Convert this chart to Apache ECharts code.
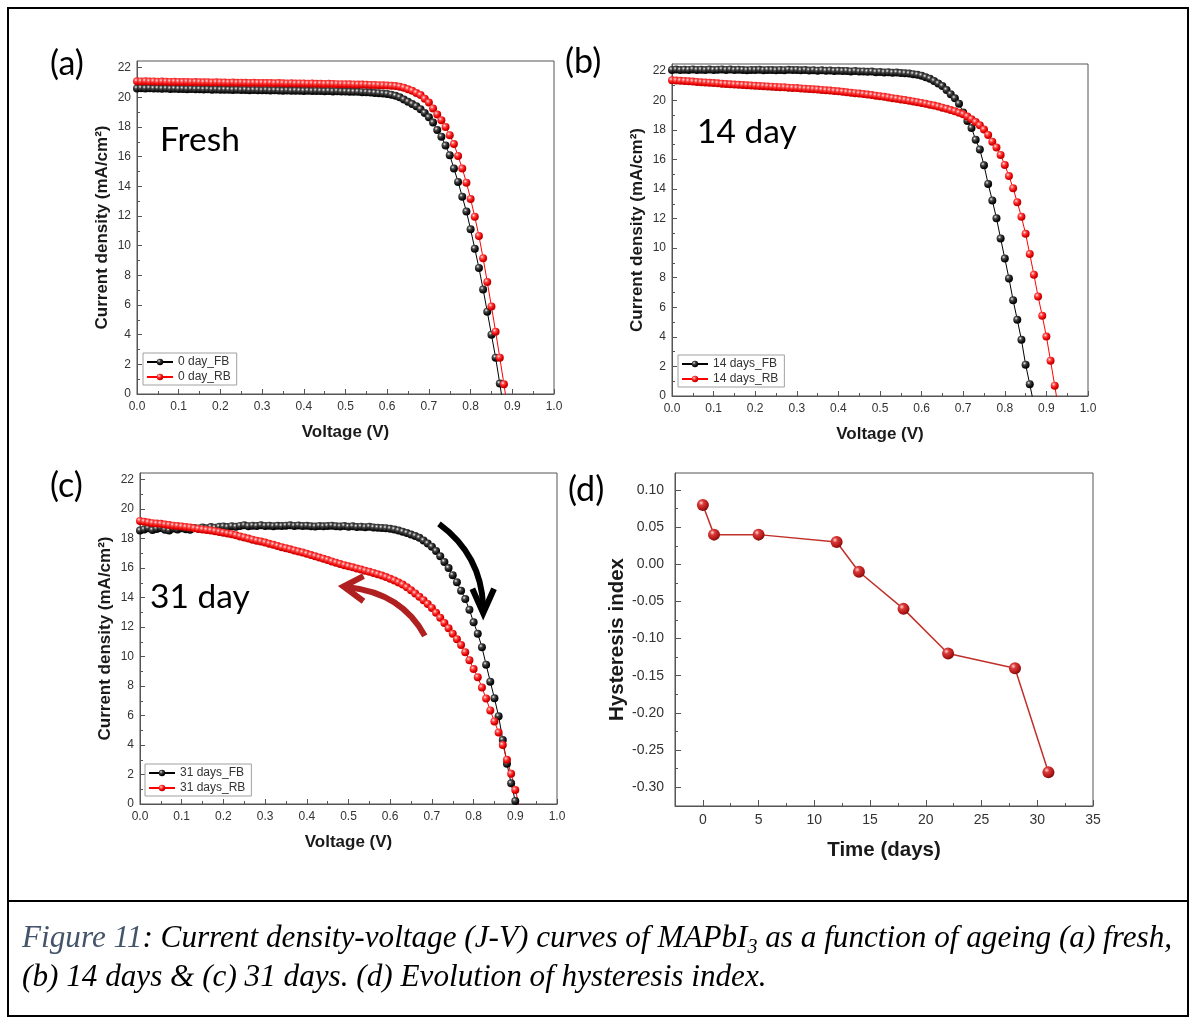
<!DOCTYPE html>
<html><head><meta charset="utf-8">
<script src="https://cdn.jsdelivr.net/npm/echarts@6/dist/echarts.min.js"></script>
<style>html,body{margin:0;padding:0;background:#fff}#c{width:1194px;height:1019px}</style>
</head><body><div id="c"></div>
<script>
// ---------- DATA ----------
const V = [
0.00,0.01,0.02,0.03,0.04,0.05,0.06,0.07,0.08,0.09,
0.10,0.11,0.12,0.13,0.14,0.15,0.16,0.17,0.18,0.19,
0.20,0.21,0.22,0.23,0.24,0.25,0.26,0.27,0.28,0.29,
0.30,0.31,0.32,0.33,0.34,0.35,0.36,0.37,0.38,0.39,
0.40,0.41,0.42,0.43,0.44,0.45,0.46,0.47,0.48,0.49,
0.50,0.51,0.52,0.53,0.54,0.55,0.56,0.57,0.58,0.59,
0.60,0.61,0.62,0.63,0.64,0.65,0.66,0.67,0.68,0.69,
0.70,0.71,0.72,0.73,0.74,0.75,0.76,0.77,0.78,0.79,
0.80,0.81,0.82,0.83,0.84,0.85,0.86,0.87,0.88,0.89,
0.90,0.91,0.92,0.93];

const jA_FB = [
20.6,20.62,20.6,20.61,20.59,20.6,20.58,20.59,20.57,20.58,
20.56,20.57,20.55,20.56,20.54,20.55,20.53,20.54,20.52,20.53,
20.51,20.52,20.51,20.5,20.51,20.49,20.5,20.48,20.49,20.48,
20.47,20.48,20.46,20.47,20.46,20.45,20.46,20.44,20.45,20.44,
20.43,20.44,20.42,20.43,20.42,20.41,20.42,20.4,20.41,20.39,
20.39,20.38,20.37,20.37,20.35,20.34,20.32,20.3,20.28,20.26,
20.23,20.18,20.1,20.0,19.85,19.7,19.55,19.4,19.2,18.95,
18.65,18.3,17.8,17.35,16.75,16.1,15.2,14.3,13.3,12.3,
11.1,9.8,8.5,7.05,5.55,4.0,2.45,0.7,-1.1];

const jA_RB = [
21.08,21.07,21.08,21.06,21.07,21.05,21.06,21.05,21.04,21.05,
21.04,21.03,21.04,21.02,21.03,21.02,21.01,21.02,21.0,21.01,
21.0,21.0,20.99,21.0,20.98,20.99,20.98,20.97,20.98,20.97,
20.97,20.96,20.97,20.95,20.96,20.95,20.94,20.95,20.93,20.94,
20.93,20.92,20.93,20.91,20.92,20.9,20.91,20.9,20.89,20.89,
20.88,20.88,20.87,20.86,20.86,20.85,20.84,20.83,20.82,20.81,
20.8,20.78,20.76,20.72,20.65,20.55,20.45,20.3,20.15,19.9,
19.65,19.25,18.85,18.45,18.0,17.45,16.85,16.05,15.2,14.25,
13.15,11.95,10.65,9.15,7.55,5.9,4.2,2.45,0.65,-1.2];

const jB_FB = [
22.05,22.07,22.04,22.06,22.05,22.08,22.05,22.06,22.04,22.07,
22.05,22.06,22.08,22.05,22.07,22.04,22.06,22.05,22.03,22.05,
22.04,22.06,22.03,22.05,22.04,22.02,22.05,22.03,22.06,22.04,
22.05,22.02,22.04,22.01,22.03,22.0,22.02,21.99,22.01,21.98,
21.99,21.97,21.98,21.95,21.97,21.94,21.95,21.92,21.94,21.9,
21.91,21.88,21.89,21.86,21.87,21.84,21.82,21.8,21.76,21.72,
21.66,21.56,21.45,21.3,21.13,20.96,20.69,20.41,20.13,19.77,
19.17,18.6,18.12,17.32,16.66,15.6,14.34,13.22,12.02,10.65,
9.3,7.95,6.47,5.16,3.8,2.12,0.8,-0.6];

const jB_RB = [
21.35,21.33,21.31,21.3,21.28,21.26,21.24,21.22,21.2,21.18,
21.16,21.14,21.12,21.1,21.08,21.06,21.05,21.03,21.01,21.0,
20.98,20.96,20.95,20.93,20.92,20.9,20.88,20.87,20.85,20.83,
20.82,20.8,20.78,20.76,20.74,20.72,20.7,20.67,20.65,20.62,
20.6,20.57,20.54,20.51,20.48,20.45,20.42,20.38,20.35,20.31,
20.27,20.23,20.19,20.14,20.1,20.05,20.01,19.96,19.92,19.87,
19.82,19.76,19.7,19.64,19.57,19.5,19.42,19.34,19.25,19.15,
19.05,18.9,18.72,18.52,18.3,18.02,17.65,17.2,16.8,16.3,
15.62,14.87,14.05,13.1,12.12,10.97,9.6,8.2,6.73,5.42,
4.02,2.38,0.7,-1.0];

const jC_FB = [
18.55,18.62,18.7,18.58,18.66,18.72,18.6,18.55,18.68,18.62,
18.7,18.64,18.6,18.72,18.68,18.75,18.7,18.78,18.74,18.8,
18.82,18.78,18.84,18.8,18.86,18.9,18.84,18.88,18.85,18.9,
18.86,18.88,18.84,18.87,18.85,18.88,18.9,18.86,18.89,18.85,
18.87,18.84,18.82,18.86,18.83,18.85,18.88,18.84,18.82,18.85,
18.8,18.83,18.79,18.81,18.77,18.8,18.76,18.74,18.72,18.7,
18.67,18.62,18.55,18.47,18.38,18.28,18.18,18.05,17.87,17.67,
17.45,17.16,16.8,16.42,16.0,15.52,15.04,14.47,13.9,13.17,
12.32,11.55,10.63,9.45,8.3,7.17,5.95,4.34,2.73,1.4,
0.2,-1.0];

const jC_RB = [
19.2,19.15,19.1,19.05,19.02,19.0,18.95,18.92,18.88,18.85,
18.82,18.78,18.75,18.7,18.66,18.62,18.58,18.55,18.5,18.45,
18.4,18.35,18.3,18.22,18.15,18.08,18.0,17.93,17.86,17.8,
17.73,17.65,17.58,17.5,17.42,17.35,17.27,17.2,17.12,17.05,
16.97,16.88,16.8,16.72,16.63,16.55,16.45,16.37,16.28,16.2,
16.12,16.05,15.97,15.9,15.82,15.75,15.67,15.58,15.49,15.39,
15.28,15.16,15.03,14.88,14.7,14.5,14.28,14.05,13.82,13.57,
13.3,12.97,12.63,12.28,11.92,11.55,11.18,10.78,10.3,9.75,
9.15,8.6,7.9,7.15,6.35,5.6,4.85,4.0,3.0,2.05,
0.95,-0.2];

const days = [0, 1, 5, 12, 14, 18, 22, 28, 31];
const hIndex = [0.08, 0.04, 0.04, 0.03, -0.01, -0.06, -0.12, -0.14, -0.28];

const jTicks = [0,2,4,6,8,10,12,14,16,18,20,22];
const jMinor = [1,3,5,7,9,11,13,15,17,19,21];
const dayTicks = [0,5,10,15,20,25,30,35];
const dayMinor = [2.5,7.5,12.5,17.5,22.5,27.5,32.5];
const hiTicks = [-0.30,-0.25,-0.20,-0.15,-0.10,-0.05,0.00,0.05,0.10];
const hiMinor = [-0.275,-0.225,-0.175,-0.125,-0.075,-0.025,0.025,0.075];

const seriesNames = [['0 day_FB','0 day_RB'],['14 days_FB','14 days_RB'],['31 days_FB','31 days_RB']];
const jvData = [[jA_FB, jA_RB],[jB_FB, jB_RB],[jC_FB, jC_RB]];
const panelTags = ['(a)','(b)','(c)','(d)'];
const panelNotes = ['Fresh','14 day','31 day'];

// arrow annotation anchors in (c) data coordinates [V, J]
const arrowBlack = [[0.717,19.0],[0.818,16.9],[0.823,13.4]];
const arrowBlackHead = [[0.797,14.6],[0.823,12.95],[0.849,14.6]];
const arrowRed = [[0.683,11.4],[0.628,14.3],[0.50,14.7]];
const arrowRedHead = [[0.536,15.45],[0.488,14.75],[0.536,13.75]];

// ---------- CHART ----------
const chart = echarts.init(document.getElementById('c'), null, {renderer:'canvas'});
const FONT = 'Liberation Sans';
function ball(c0,c1,c2,c3){return {type:'radial',x:0.36,y:0.33,r:0.7,colorStops:[{offset:0,color:c0},{offset:0.3,color:c1},{offset:0.7,color:c2},{offset:1,color:c3}]};}
const blackBall = ball('#f4f4f4','#4a4a4a','#111','#000');
const redBall = ball('#ffe4e4','#ff4a4a','#e60000','#b00000');
const darkRedBall = ball('#ffd6d6','#d93a3a','#b81a1a','#7a0c0c');

const grids = [
  {left:137, top:61, width:417, height:333},
  {left:672, top:64, width:416, height:332},
  {left:140, top:473, width:417, height:331},
  {left:675, top:473, width:418, height:333}
].map(g => Object.assign({show:true, borderColor:'#555', borderWidth:1, backgroundColor:'transparent'}, g));

const axisCommon = {
  axisLine:{show:true, onZero:false, lineStyle:{color:'#555', width:1}},
  splitLine:{show:false},
};
const minorLine = {show:false, onZero:false};
const xAxes = [], yAxes = [], series = [], legends = [];
const legendPos = [{left:143, top:353},{left:678, top:355},{left:145, top:764}];

for (let k=0;k<3;k++){
  xAxes.push(Object.assign({}, axisCommon, {
    type:'value', gridIndex:k, min:0, max:1, interval:0.1,
    axisTick:{inside:true, length:5, lineStyle:{color:'#555'}},
    minorTick:{show:true, splitNumber:2, length:3, lineStyle:{color:'#555'}},
    axisLabel:{fontSize:12, color:'#333', margin:7, fontFamily:FONT, formatter:v=>v.toFixed(1)},
    name:'Voltage (V)', nameLocation:'middle', nameGap:30,
    nameTextStyle:{fontSize:17, fontWeight:'bold', color:'#1a1a1a', fontFamily:FONT}
  }));
  yAxes.push(Object.assign({}, axisCommon, {
    type:'value', gridIndex:k, min:0, max:22.45, interval:2, position:'left',
    axisTick:{inside:true, length:5, customValues:jTicks, lineStyle:{color:'#555'}},
    axisLabel:{fontSize:12, color:'#333', margin:6, fontFamily:FONT, customValues:jTicks},
    name:'Current density (mA/cm²)', nameLocation:'middle', nameGap:26,
    nameTextStyle:{fontSize:17, fontWeight:'bold', color:'#1a1a1a', fontFamily:FONT}
  }));
  yAxes.push({
    type:'value', gridIndex:k, min:0, max:22.45, position:'left',
    axisLine:minorLine, splitLine:{show:false}, axisLabel:{show:false},
    axisTick:{inside:true, length:3, customValues:jMinor, lineStyle:{color:'#555'}}
  });
  const names = seriesNames[k];
  const mk = (arr, name, lineColor, ballColor) => ({
    type:'line', name, xAxisIndex:k, yAxisIndex:2*k,
    data: arr.map((y,i)=>[V[i], y]),
    symbol:'circle', symbolSize:8, showSymbol:true, clip:true,
    lineStyle:{width:1, color:lineColor},
    itemStyle:{color:ballColor},
    animation:false, z:3
  });
  series.push(mk(jvData[k][0], names[0], '#000', blackBall));
  series.push(mk(jvData[k][1], names[1], '#ff0000', redBall));
  legends.push(Object.assign({
    data:names, orient:'vertical', itemGap:3, itemWidth:26, itemHeight:8,
    padding:[3,6,2,3], borderColor:'#a0a0a0', borderWidth:1, backgroundColor:'#fff',
    textStyle:{fontSize:12, color:'#333', fontFamily:FONT}, selectedMode:false
  }, legendPos[k]));
}
// panel d
xAxes.push(Object.assign({}, axisCommon, {
  type:'value', gridIndex:3, min:-2.5, max:35,
  axisTick:{inside:true, length:6, customValues:dayTicks, lineStyle:{color:'#555'}},
  axisLabel:{fontSize:14, color:'#333', margin:7, fontFamily:FONT, customValues:dayTicks},
  name:'Time (days)', nameLocation:'middle', nameGap:34,
  nameTextStyle:{fontSize:20.5, fontWeight:'bold', color:'#1a1a1a', fontFamily:FONT}
}));
xAxes.push({
  type:'value', gridIndex:3, min:-2.5, max:35, position:'bottom',
  axisLine:minorLine, splitLine:{show:false}, axisLabel:{show:false},
  axisTick:{inside:true, length:3, customValues:dayMinor, lineStyle:{color:'#555'}}
});
yAxes.push(Object.assign({}, axisCommon, {
  type:'value', gridIndex:3, min:-0.3255, max:0.123, position:'left',
  axisTick:{inside:true, length:6, customValues:hiTicks, lineStyle:{color:'#555'}},
  axisLabel:{fontSize:14, color:'#333', margin:11, fontFamily:FONT, customValues:hiTicks, formatter:v=>v.toFixed(2)},
  name:'Hysteresis index', nameLocation:'middle', nameGap:47,
  nameTextStyle:{fontSize:20.5, fontWeight:'bold', color:'#1a1a1a', fontFamily:FONT}
}));
yAxes.push({
  type:'value', gridIndex:3, min:-0.3255, max:0.123, position:'left',
  axisLine:minorLine, splitLine:{show:false}, axisLabel:{show:false},
  axisTick:{inside:true, length:3, customValues:hiMinor, lineStyle:{color:'#555'}}
});
series.push({
  type:'line', name:'HI', xAxisIndex:3, yAxisIndex:6,
  data: hIndex.map((y,i)=>[days[i], y]),
  symbol:'circle', symbolSize:12, lineStyle:{width:1.5, color:'#c0302a'},
  itemStyle:{color:darkRedBall}, animation:false, z:3
});

chart.setOption({
  animation:false,
  textStyle:{fontFamily:FONT},
  grid:grids, xAxis:xAxes, yAxis:yAxes, series, legend:legends
});

// ---------- ANNOTATIONS ----------
const px = p => chart.convertToPixel({gridIndex:2}, p);
const bA = arrowBlack.map(px), bH = arrowBlackHead.map(px);
const rA = arrowRed.map(px), rH = arrowRedHead.map(px);
const tagPos = [[50,64],[565,62],[50,486],[568,490]];
const notePos = [[160,140],[697,132],[150,597]];
const LABEL_FONT = 'Lato';
const graphics = [
  {type:'rect', shape:{x:8,y:8,width:1180,height:1008}, style:{fill:'none', stroke:'#000', lineWidth:2}, silent:true},
  {type:'line', shape:{x1:8,y1:901,x2:1188,y2:901}, style:{stroke:'#000', lineWidth:2}, silent:true},
];
panelTags.forEach((t,i)=>graphics.push({type:'text', x:tagPos[i][0], y:tagPos[i][1],
  style:{text:t, font:'34px '+LABEL_FONT, fill:'#000', verticalAlign:'middle'}, z:10}));
panelNotes.forEach((t,i)=>graphics.push({type:'text', x:notePos[i][0], y:notePos[i][1],
  style:{text:t, font:'33.5px '+LABEL_FONT, fill:'#000', verticalAlign:'middle'}, z:10}));
graphics.push(
  {type:'bezierCurve', shape:{x1:bA[0][0],y1:bA[0][1],cpx1:bA[1][0],cpy1:bA[1][1],x2:bA[2][0],y2:bA[2][1]},
   style:{stroke:'#000', lineWidth:6, fill:'none'}, z:20},
  {type:'polyline', shape:{points:bH}, style:{stroke:'#000', lineWidth:6, fill:'none', lineJoin:'miter'}, z:20},
  {type:'bezierCurve', shape:{x1:rA[0][0],y1:rA[0][1],cpx1:rA[1][0],cpy1:rA[1][1],x2:rA[2][0],y2:rA[2][1]},
   style:{stroke:'#b02020', lineWidth:6, fill:'none'}, z:20},
  {type:'polyline', shape:{points:rH}, style:{stroke:'#b02020', lineWidth:6, fill:'none', lineJoin:'miter'}, z:20}
);
const capFont = 'italic 31.2px "Liberation Serif"';
graphics.push({type:'text', x:22, y:939, z:10, style:{
  text:'{f|Figure 11}{t|: Current density-voltage (J-V) curves of MAPbI}{s|3}{t| as a function of ageing (a) fresh,}',
  verticalAlign:'middle',
  rich:{
    f:{font:capFont, fill:'#44546a', lineHeight:38},
    t:{font:capFont, fill:'#000', lineHeight:38},
    s:{font:'italic 20px "Liberation Serif"', fill:'#000', lineHeight:20, verticalAlign:'bottom'}
  }}});
graphics.push({type:'text', x:22, y:978, z:10, style:{
  text:'(b) 14 days & (c) 31 days. (d) Evolution of hysteresis index.',
  font:capFont, fill:'#000', verticalAlign:'middle'}});
chart.setOption({graphic:graphics});
</script></body></html>
